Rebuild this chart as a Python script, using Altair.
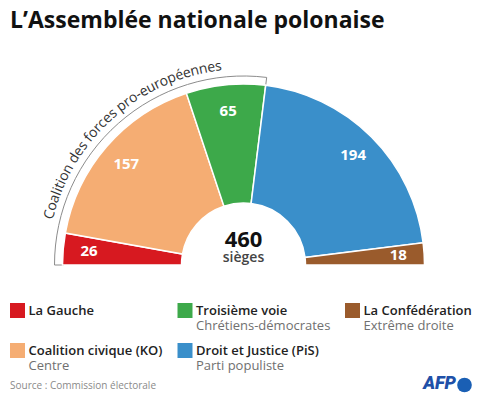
import math
import altair as alt
import pandas as pd

# ---------------- data ----------------
title_text = "L’Assemblée nationale polonaise"
parties = ["La Gauche", "Coalition civique (KO)", "Troisième voie",
           "Droit et Justice (PiS)", "La Confédération"]
seats = [26, 157, 65, 194, 18]
colors = ["#d71920", "#f5ad73", "#3da94a", "#3a8fca", "#9a5b2c"]
subtitles = ["", "Centre", "Chrétiens-démocrates", "Parti populiste", "Extrême droite"]
legend_order = ["La Gauche", "Troisième voie", "La Confédération",
                "Coalition civique (KO)", "Droit et Justice (PiS)"]
coalition_label = "Coalition des forces pro-européennes"
coalition_members = ["La Gauche", "Coalition civique (KO)", "Troisième voie"]
center_unit = "sièges"
source_text = "Source : Commission électorale"
logo_text = "AFP"

# ---------------- layout ----------------
W, H = 466, 388
CX, CY = 235.5, 257
R_IN, R_OUT = 62, 181
R_BRACKET = 189
R_TEXT = 200
R_LABEL = 155
FONT = "Open Sans"
ARC_FONT = 14

total = sum(seats)
theta_scale = alt.Scale(domain=[0, total], range=[-math.pi / 2, math.pi / 2])
color_scale = alt.Scale(domain=parties, range=colors)

df = pd.DataFrame({"party": parties, "seats": seats, "order": list(range(len(parties)))})

# bracket around the pro-European coalition
coal_seats = sum(s for p, s in zip(parties, seats) if p in coalition_members)
bracket_df = pd.DataFrame({"start": [0], "end": [coal_seats]})
bracket = alt.Chart(bracket_df).mark_arc(
    radius=R_BRACKET, radius2=R_OUT - 1.5, fillOpacity=0,
    stroke="#8c8c8c", strokeWidth=1
).encode(
    theta=alt.Theta("start:Q", scale=theta_scale, stack=False),
    theta2="end:Q",
    x=alt.value(CX), y=alt.value(CY),
)

arcs = alt.Chart(df).mark_arc(
    radius=R_OUT, radius2=R_IN, stroke="white", strokeWidth=1.5
).encode(
    theta=alt.Theta("seats:Q", stack=True, scale=theta_scale),
    color=alt.Color("party:N", scale=color_scale, legend=None),
    order=alt.Order("order:Q"),
    x=alt.value(CX), y=alt.value(CY),
)

labels = alt.Chart(df).mark_text(
    radius=R_LABEL, font=FONT, fontSize=15, fontWeight="bold", color="white"
).encode(
    theta=alt.Theta("seats:Q", stack=True, scale=theta_scale),
    detail="party:N",
    order=alt.Order("order:Q"),
    text="seats:Q",
    x=alt.value(CX), y=alt.value(CY),
)

# curved coalition label, one character at a time along the arc
char_em = {"C": .63, "o": .6, "a": .56, "l": .26, "i": .26, "t": .36, "n": .61,
           " ": .26, "d": .61, "e": .56, "s": .48, "f": .35, "r": .41, "c": .48,
           "p": .61, "-": .32, "u": .61, "é": .56}
widths = [char_em.get(c, .55) * ARC_FONT for c in coalition_label]
span = sum(widths)
mid_seats = coal_seats / 2
chars, pos, rot = [], [], []
acc = 0.0
for c, w in zip(coalition_label, widths):
    off = acc + w / 2 - span / 2
    p = mid_seats + (off / R_TEXT) / math.pi * total
    chars.append(c)
    pos.append(p)
    rot.append((-90 + p / total * 180) % 360)
    acc += w
chars_df = pd.DataFrame({"ch": chars, "pos": pos, "rot": rot})
arc_text = alt.Chart(chars_df).mark_text(
    radius=R_TEXT, font=FONT, fontSize=ARC_FONT, color="#333333",
    align="center", baseline="middle"
).encode(
    theta=alt.Theta("pos:Q", scale=theta_scale, stack=False),
    angle=alt.Angle("rot:Q", scale=None),
    text="ch:N",
    x=alt.value(CX), y=alt.value(CY),
)

center_df = pd.DataFrame({"v": [str(total)], "u": [center_unit]})
center_num = alt.Chart(center_df).mark_text(
    font=FONT, fontSize=22, fontWeight="bold", color="#111111",
    align="center", baseline="alphabetic"
).encode(text="v:N", x=alt.value(CX), y=alt.value(CY - 18))
center_lbl = alt.Chart(center_df).mark_text(
    font=FONT, fontSize=14, fontWeight=600, color="#444444",
    align="center", baseline="alphabetic"
).encode(text="u:N", x=alt.value(CX), y=alt.value(CY - 3))

# legend
leg_df = pd.DataFrame({
    "party": legend_order,
    "col": [i % 3 for i in range(len(legend_order))],
    "row": [i // 3 for i in range(len(legend_order))],
    "sub": [subtitles[parties.index(p)] for p in legend_order],
})
x_scale = alt.Scale(domain=[0, 2], range=[9.5, 344.5], nice=False, zero=False)
y_scale = alt.Scale(domain=[0, 1], range=[302.5, 342.5], nice=False, zero=False)
lx = alt.X("col:Q", scale=x_scale, axis=None)
ly = alt.Y("row:Q", scale=y_scale, axis=None)

squares = alt.Chart(leg_df).mark_point(
    shape="square", filled=True, size=225, opacity=1
).encode(x=lx, y=ly, color=alt.Color("party:N", scale=color_scale, legend=None))
leg_main = alt.Chart(leg_df).mark_text(
    align="left", baseline="middle", dx=11, font=FONT, fontSize=13,
    fontWeight=600, color="#222222"
).encode(x=lx, y=ly, text="party:N")
leg_sub = alt.Chart(leg_df).mark_text(
    align="left", baseline="middle", dx=11, dy=15, font=FONT, fontSize=13,
    color="#707070"
).encode(x=lx, y=ly, text="sub:N")

# title, source, logo
title_df = pd.DataFrame({"t": [title_text]})
title = alt.Chart(title_df).mark_text(
    font=FONT, fontSize=23, fontWeight="bold", color="#111111",
    align="left", baseline="alphabetic"
).encode(text="t:N", x=alt.value(2), y=alt.value(20))

src_df = pd.DataFrame({"t": [source_text]})
source = alt.Chart(src_df).mark_text(
    font=FONT, fontSize=10, color="#8a8a8a", align="left", baseline="middle"
).encode(text="t:N", x=alt.value(2), y=alt.value(378))

logo_df = pd.DataFrame({"t": [logo_text]})
logo_dot = alt.Chart(logo_df).mark_point(
    shape="circle", filled=True, size=214, opacity=1, color="#1a5fb4"
).encode(x=alt.value(456.5), y=alt.value(377))
logo = alt.Chart(logo_df).mark_text(
    font="Roboto", fontSize=18, fontWeight=900, fontStyle="italic",
    color="#2050a8", align="right", baseline="middle"
).encode(text="t:N", x=alt.value(448), y=alt.value(376))

chart = alt.layer(
    bracket, arcs, labels, arc_text, center_num, center_lbl,
    squares, leg_main, leg_sub, title, source, logo_dot, logo
).properties(
    width=W, height=H, padding=0,
    autosize=alt.AutoSizeParams(type="none"),
    background="white",
).configure_view(stroke=None)

chart.save("out.html", embed_options={"renderer": "svg", "actions": False})
